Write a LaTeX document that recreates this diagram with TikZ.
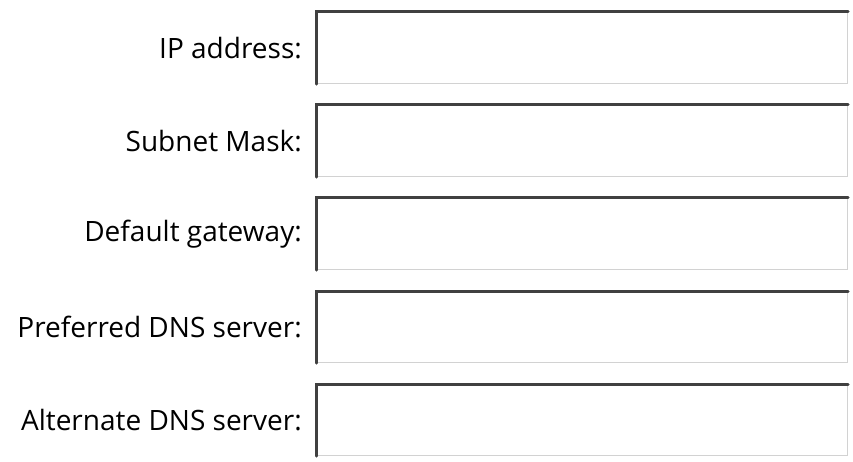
\documentclass[tikz,border=0pt]{standalone}
\usepackage{fontspec}
\setmainfont{Open Sans}
\usetikzlibrary{positioning}

\tikzset{
  fieldlabel/.style={anchor=east, font=\fontsize{28}{32}\selectfont, inner sep=0pt},
  fieldbox/.style={minimum width=531pt, minimum height=71pt, anchor=north west, inner sep=0pt,
    draw=gray!35, line width=1.2pt}
}

\begin{document}
\begin{tikzpicture}[x=1pt,y=-1pt]
        \useasboundingbox (0,0) rectangle (853,462);

        % Input fields with sunken edge
        \foreach \name/\txt [count=\i] in {ip/IP address:, mask/Subnet Mask:,
            gw/Default gateway:, pdns/Preferred DNS server:, adns/Alternate DNS server:} {
          \node[fieldbox] (\name) at (316, 12+93*\i-93) {};
          \draw[line width=3pt, black!75, line cap=round]
            (\name.south west) -- (\name.north west) -- (\name.north east);
          \node[fieldlabel] (\name-lbl) at ([xshift=-14pt]\name.west) {\txt};
        }

    \end{tikzpicture}
\end{document}
